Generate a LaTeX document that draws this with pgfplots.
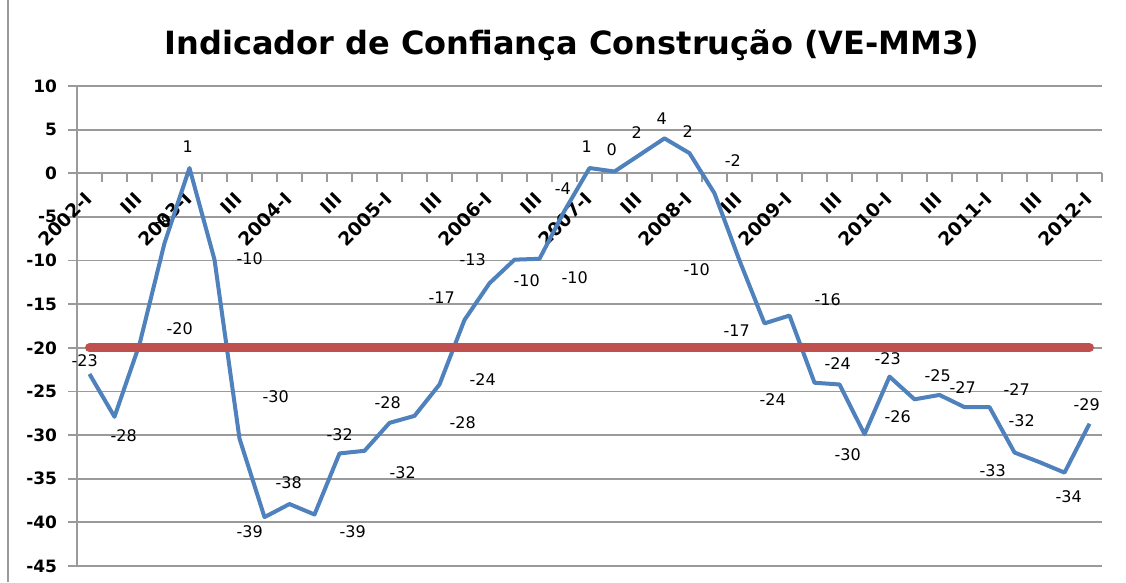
\documentclass[border=0pt]{standalone}
\usepackage{fontspec}
\setmainfont{DejaVu Sans}
\usepackage{pgfplots}
\pgfplotsset{compat=1.18}
\definecolor{linha}{HTML}{4F81BD}
\definecolor{meta}{HTML}{C0504D}
\definecolor{grade}{HTML}{9A9A9A}

% posicoes dos rotulos de dados (x = indice do trimestre, y = valor)
\pgfplotstableread{
x y lab
-0.19 -21.5 -23
1.37 -30.1 -28
3.61 -17.8 -20
2.93 -5.6 -8
3.93 3.0 1
6.41 -9.8 -10
7.45 -25.6 -30
6.41 -41.1 -39
7.97 -35.5 -38
10.53 -41.1 -39
10.01 -29.9 -32
12.53 -34.3 -32
11.93 -26.3 -28
14.93 -28.6 -28
15.73 -23.6 -24
14.09 -14.3 -17
15.33 -9.9 -13
17.49 -12.3 -10
19.41 -12.0 -10
18.93 -1.8 -4
19.89 3.0 1
20.89 2.7 0
21.89 4.7 2
22.89 6.3 4
23.93 4.8 2
25.73 1.5 -2
24.29 -11.0 -10
25.89 -18.0 -17
29.53 -14.5 -16
27.33 -25.9 -24
29.93 -21.8 -24
30.33 -32.3 -30
31.93 -21.2 -23
32.33 -27.9 -26
33.93 -23.2 -25
34.93 -24.6 -27
37.09 -24.8 -27
37.29 -28.4 -32
36.13 -34.1 -33
39.17 -37.1 -34
39.89 -26.5 -29
}\rotulos

\begin{document}
\begin{tikzpicture}[x=1pt,y=1pt]
\useasboundingbox (0,0) rectangle (1126,582);
\fill[white] (0,0) rectangle (1126,582);
\draw[grade, line width=1.5pt] (8,0) -- (8,582);
\node[font=\bfseries\fontsize{32}{38}\selectfont] at (572,537) {Indicador de Confiança Construção (VE-MM3)};
\begin{axis}[
  at={(77pt,16pt)}, anchor=south west,
  scale only axis, width=1025pt, height=480pt,
  xmin=-0.5, xmax=40.5, ymin=-45, ymax=10,
  axis y line=left, axis x line=middle,
  axis line style={-, grade, line width=1.8pt},
  hide obscured x ticks=false, hide obscured y ticks=false,
  clip=false,
  ytick={-45,-40,...,10},
  ymajorgrids,
  major grid style={grade, line width=1.8pt},
  tick align=center,
  major tick length=9pt, minor tick length=9pt,
  tick style={grade, line width=1.8pt},
  major y tick style={xshift=-4.5pt},
  xtick={0,2,...,40},
  xticklabels={2002-I,III,2003-I,III,2004-I,III,2005-I,III,2006-I,III,2007-I,III,2008-I,III,2009-I,III,2010-I,III,2011-I,III,2012-I},
  major x tick style={draw=none},
  minor xtick={-0.5,0.5,...,40.5},
  minor x tick style={yshift=-4.5pt},
  /pgf/number format/assume math mode=true,
  yticklabel style={font=\bfseries\fontsize{17}{20}\selectfont, anchor=east, xshift=-12pt},
  xticklabel style={font=\bfseries\fontsize{18.5}{20}\selectfont, rotate=45, anchor=east, xshift=-10pt, yshift=-12pt},
]
\addplot[linha, line width=4pt, line join=round] coordinates {
 (0,-23.0) (1,-27.9) (2,-19.6) (3,-8.0) (4,0.6) (5,-9.9) (6,-30.4) (7,-39.4)
 (8,-37.9) (9,-39.1) (10,-32.1) (11,-31.8) (12,-28.6) (13,-27.8) (14,-24.2)
 (15,-16.8) (16,-12.6) (17,-9.9) (18,-9.8) (19,-4.3) (20,0.6) (21,0.2)
 (22,2.1) (23,4.0) (24,2.3) (25,-2.3) (26,-10.0) (27,-17.2) (28,-16.3)
 (29,-24.0) (30,-24.2) (31,-29.9) (32,-23.3) (33,-25.9) (34,-25.4)
 (35,-26.8) (36,-26.8) (37,-32.0) (38,-33.1) (39,-34.3) (40,-28.7)
};
\addplot[meta, line width=9pt, line cap=round] coordinates {(0,-20) (40,-20)};
\addplot[draw=none, mark=none, nodes near coords, point meta=explicit symbolic,
  every node near coord/.style={anchor=center, inner sep=0pt, font=\fontsize{16}{18}\selectfont, black}]
  table[x=x, y=y, meta=lab] {\rotulos};
\end{axis}
\end{tikzpicture}
\end{document}
